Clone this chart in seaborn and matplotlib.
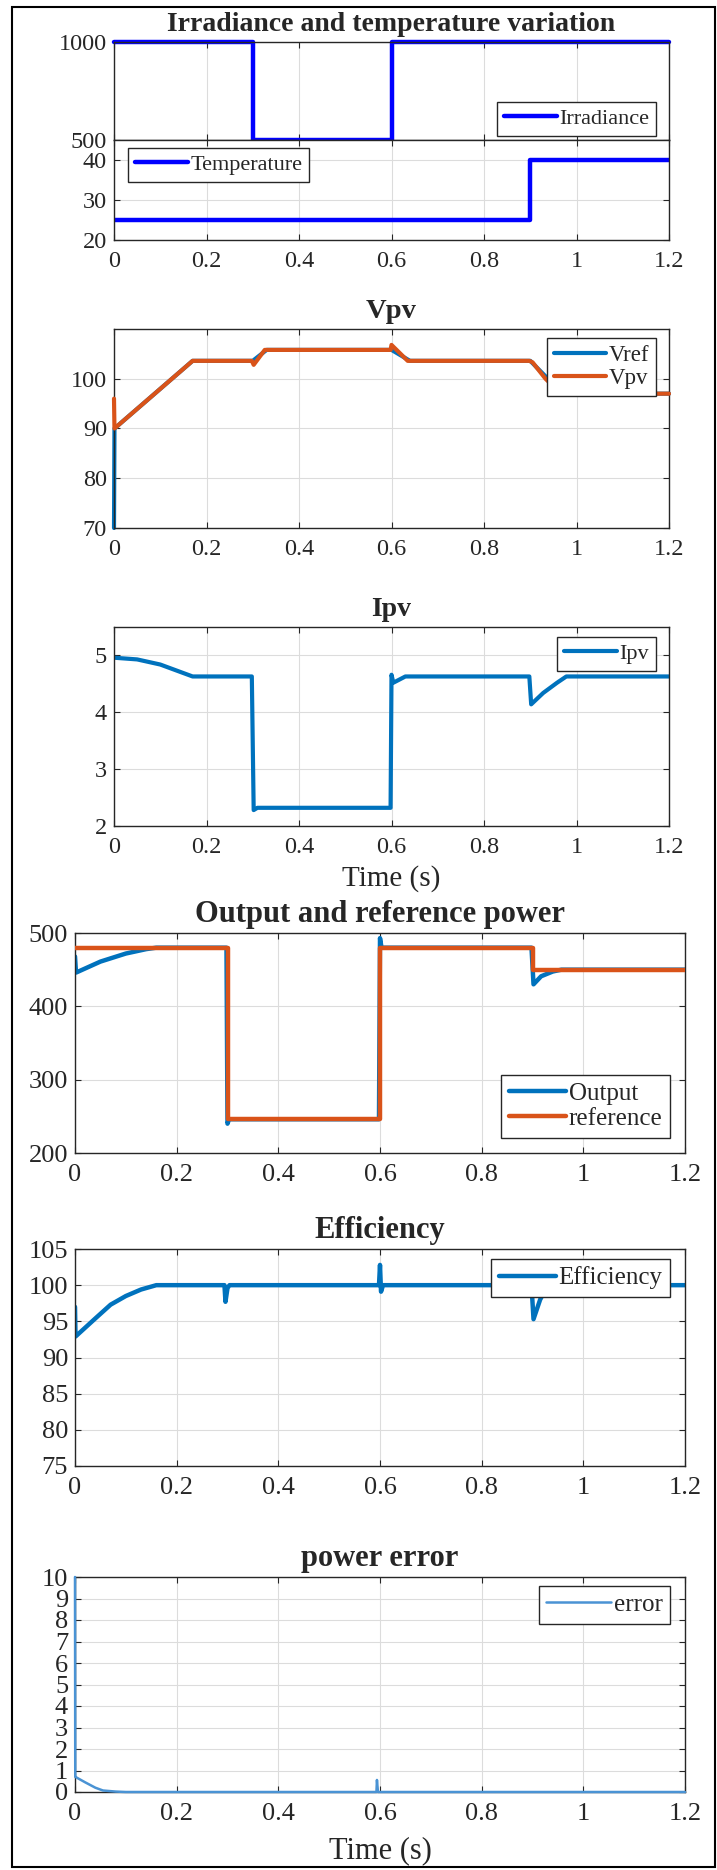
import matplotlib
matplotlib.use("Agg")
import matplotlib.pyplot as plt
import matplotlib.patches as mpatches
import seaborn as sns
import pandas as pd

sns.set_theme(style="whitegrid")
plt.rcParams['font.family'] = ['Liberation Serif', 'DejaVu Serif']
plt.rcParams['axes.unicode_minus'] = False

# ---- data ----
t_irr = [0, 0.3, 0.3, 0.6, 0.6, 1.2]
irradiance = [1000, 1000, 500, 500, 1000, 1000]

t_temp = [0, 0.9, 0.9, 1.2]
temperature = [25, 25, 40, 40]

t_vref = [0, 0.001, 0.17, 0.30, 0.33, 0.60, 0.64, 0.90, 0.97, 1.2]
vref = [70, 90, 103.6, 103.6, 105.8, 105.8, 103.6, 103.6, 97, 97]
t_vpv = [0, 0.001, 0.17, 0.298, 0.302, 0.326, 0.598, 0.600, 0.635, 0.898, 0.905, 0.933, 0.966, 1.2]
vpv = [96, 90, 103.6, 103.6, 102.8, 105.8, 105.8, 106.8, 103.6, 103.6, 103.3, 100, 97, 97]

t_ipv = [0, 0.05, 0.10, 0.15, 0.17, 0.298, 0.302, 0.31, 0.598, 0.600, 0.604, 0.63,
         0.898, 0.902, 0.928, 0.958, 0.978, 1.2]
ipv = [4.96, 4.93, 4.84, 4.69, 4.63, 4.63, 2.28, 2.32, 2.32, 4.66, 4.52, 4.63,
       4.63, 4.14, 4.34, 4.52, 4.63, 4.63]

t_pout = [0, 0.002, 0.05, 0.10, 0.14, 0.16, 0.298, 0.300, 0.303, 0.598, 0.600, 0.603,
          0.898, 0.902, 0.917, 0.94, 0.957, 1.2]
p_out = [468, 446, 461, 472, 478, 480, 480, 240, 246, 246, 493, 480,
         480, 430, 441, 447.5, 450, 450]
t_pref = [0, 0.3, 0.3, 0.6, 0.6, 0.9, 0.9, 1.2]
p_ref = [480, 480, 246, 246, 480, 480, 450, 450]

t_eff = [0, 0.001, 0.04, 0.07, 0.10, 0.13, 0.16, 0.294, 0.296, 0.300, 0.304, 0.598, 0.600,
         0.602, 0.606, 0.898, 0.902, 0.915, 0.93, 1.2]
efficiency = [97, 92.9, 95.4, 97.3, 98.5, 99.4, 100, 100, 97.7, 99.6, 100, 100, 102.8,
              99.1, 100, 100, 95.3, 98, 100, 100]

t_err = [0, 0.0005, 0.001, 0.02, 0.04, 0.055, 0.08, 0.1, 0.593, 0.594, 0.596, 1.2]
error = [10, 0.7, 0.7, 0.45, 0.2, 0.07, 0.02, 0, 0, 0.56, 0, 0]

x_ticks = [0, 0.2, 0.4, 0.6, 0.8, 1, 1.2]
x_ticklabels = ['0', '0.2', '0.4', '0.6', '0.8', '1', '1.2']

BLUE = '#0000FF'
MBLUE = '#0072BD'
MORANGE = '#D95319'
EBLUE = '#4A93D4'

W, H = 717, 1870


def rect(l, t, r, b):
    return [l / W, 1 - b / H, (r - l) / W, (b - t) / H]


def style_axes(ax, ylim, yticks, fs, xlabels=True):
    ax.set_xlim(0, 1.2)
    ax.set_ylim(*ylim)
    ax.set_yticks(yticks)
    ax.set_xticks(x_ticks)
    if xlabels:
        ax.set_xticklabels(x_ticklabels)
    else:
        ax.set_xticklabels([])
    ax.set_yticklabels([str(v) for v in yticks])
    ax.set_facecolor('white')
    ax.grid(True, color='#DCDCDC', lw=0.8)
    for s in ax.spines.values():
        s.set_visible(True)
        s.set_color('#262626')
        s.set_linewidth(1.0)
    ax.tick_params(axis='both', direction='in', length=4, width=0.8, color='#262626',
                   labelsize=fs, labelcolor='#262626', top=True, right=True,
                   bottom=True, left=True)
    ax.tick_params(axis='x', pad=8)
    ax.tick_params(axis='y', pad=5)
    ax.set_xlabel('')
    ax.set_ylabel('')


def add_line(ax, t, y, color, lw, label, clip=True, z=2):
    df = pd.DataFrame({'t': t, 'y': y})
    sns.lineplot(data=df, x='t', y='y', ax=ax, estimator=None, sort=False,
                 color=color, lw=lw, label=label, clip_on=clip, zorder=z)


def add_legend(ax, fig, x, y, loc, fs, hl):
    leg = ax.legend(loc=loc, bbox_to_anchor=(x / W, 1 - y / H), bbox_transform=fig.transFigure,
                    borderaxespad=0, frameon=True, fancybox=False, framealpha=1,
                    edgecolor='#262626', fontsize=fs, handlelength=hl, handletextpad=0.1,
                    borderpad=0.3, labelspacing=0.1)
    leg.get_frame().set_linewidth(1.0)
    leg.set_zorder(10)
    return leg


def main():
    fig = plt.figure(figsize=(W / 100, H / 100), dpi=100)

    # 1. irradiance / temperature
    ax_irr = fig.add_axes(rect(114, 42, 669, 140))
    ax_tmp = fig.add_axes(rect(114, 140, 669, 240))
    add_line(ax_irr, t_irr, irradiance, BLUE, 3.2, 'Irradiance', clip=False)
    style_axes(ax_irr, (500, 1000), [500, 1000], 17.5, xlabels=False)
    ax_irr.set_title('Irradiance and temperature variation', fontsize=20,
                     fontweight='bold', pad=8)
    add_legend(ax_irr, fig, 656, 102, 'upper right', 16, 2.4)

    add_line(ax_tmp, t_temp, temperature, BLUE, 3.2, 'Temperature')
    style_axes(ax_tmp, (20, 45), [20, 30, 40], 17.5)
    add_legend(ax_tmp, fig, 128, 148, 'upper left', 16, 2.4)

    # 2. Vpv
    ax_v = fig.add_axes(rect(114, 329, 669, 528))
    add_line(ax_v, t_vref, vref, MBLUE, 3.0, 'Vref', clip=False)
    add_line(ax_v, t_vpv, vpv, MORANGE, 3.0, 'Vpv', clip=False, z=3)
    style_axes(ax_v, (70, 110), [70, 80, 90, 100], 17.5)
    ax_v.set_title('Vpv', fontsize=20.5, fontweight='bold', pad=8)
    add_legend(ax_v, fig, 656, 338, 'upper right', 16.5, 2.3)

    # 3. Ipv
    ax_i = fig.add_axes(rect(114, 627, 669, 826))
    add_line(ax_i, t_ipv, ipv, MBLUE, 3.0, 'Ipv')
    style_axes(ax_i, (2, 5.5), [2, 3, 4, 5], 17.5)
    ax_i.set_title('Ipv', fontsize=20, fontweight='bold', pad=8)
    ax_i.set_xlabel('Time (s)', fontsize=21, labelpad=5)
    add_legend(ax_i, fig, 656, 637, 'upper right', 16, 2.4)

    # 4. power
    ax_p = fig.add_axes(rect(75, 933, 685, 1153))
    add_line(ax_p, t_pout, p_out, MBLUE, 3.2, 'Output')
    add_line(ax_p, t_pref, p_ref, MORANGE, 3.2, 'reference', z=3)
    style_axes(ax_p, (200, 500), [200, 300, 400, 500], 19)
    ax_p.set_title('Output and reference power', fontsize=22, fontweight='bold', pad=8)
    add_legend(ax_p, fig, 670, 1075, 'upper right', 18, 2.3)

    # 5. efficiency
    ax_e = fig.add_axes(rect(75, 1249, 685, 1466))
    add_line(ax_e, t_eff, efficiency, MBLUE, 3.2, 'Efficiency')
    style_axes(ax_e, (75, 105), [75, 80, 85, 90, 95, 100, 105], 19)
    ax_e.set_title('Efficiency', fontsize=22, fontweight='bold', pad=8)
    add_legend(ax_e, fig, 670, 1259, 'upper right', 18, 2.3)

    # 6. power error
    ax_r = fig.add_axes(rect(75, 1577, 685, 1792))
    add_line(ax_r, t_err, error, EBLUE, 1.8, 'error', clip=False, z=3)
    style_axes(ax_r, (0, 10), list(range(11)), 19)
    ax_r.set_title('power error', fontsize=22, fontweight='bold', pad=8)
    ax_r.set_xlabel('Time (s)', fontsize=22, labelpad=8)
    add_legend(ax_r, fig, 670, 1586, 'upper right', 18, 2.6)

    # outer frame
    fig.add_artist(mpatches.Rectangle((12 / W, 1 - 1867 / H), (715 - 12) / W, (1867 - 7) / H,
                                      transform=fig.transFigure, fill=False,
                                      edgecolor='black', lw=1.5))

    fig.savefig('out.png', dpi=100)


if __name__ == "__main__":
    main()
